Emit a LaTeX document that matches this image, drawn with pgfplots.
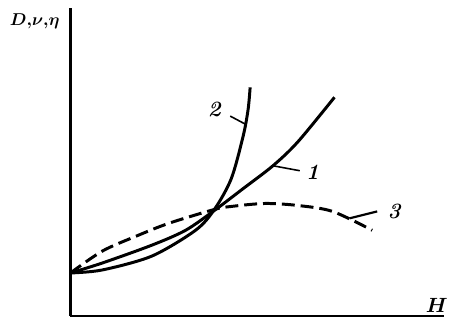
\documentclass[border=0pt]{standalone}
\usepackage{fontspec}
\usepackage{pgfplots}
\pgfplotsset{compat=1.18}
\usepackage{bm}
\begin{document}
\begin{tikzpicture}
\begin{axis}[
  scale only axis, width=376pt, height=310pt,
  xmin=0, xmax=376, ymin=0, ymax=310,
  axis lines=left, axis line style={-, line width=2.2pt},
  xtick=\empty, ytick=\empty, clip=false]
% curve 1
\addplot[line width=3pt, smooth, black] coordinates {
 (0,43) (32,53) (82,71) (116,86) (145,106) (174,128) (204,151) (229,175) (266,220)};
% curve 2
\addplot[line width=3pt, smooth, black] coordinates {
 (0,43) (32,46) (82,60) (126,86) (145,107) (162,138) (174,181) (179,208) (181,230)};
% curve 3 (dashed)
\addplot[line width=3pt, smooth, black, dash pattern=on 13pt off 6pt] coordinates {
 (0,43) (32,65) (66,80) (99,93) (145,107) (162,110) (196,113) (229,111) (264,105) (304,86)};
% leaders
\draw[line width=1.6pt] (axis cs:204,151) -- (axis cs:231,146);
\draw[line width=1.6pt] (axis cs:161,201) -- (axis cs:176,193);
\draw[line width=2.2pt] (axis cs:281,98) -- (axis cs:309,105);
% labels
\node[font=\fontsize{22}{22}\selectfont\bfseries\itshape] at (axis cs:244,144) {1};
\node[font=\fontsize{22}{22}\selectfont\bfseries\itshape] at (axis cs:145,208) {2};
\node[font=\fontsize{22}{22}\selectfont\bfseries\itshape] at (axis cs:326,105) {3};
\node[font=\fontsize{21}{21}\selectfont] at (axis cs:369,10) {$\bm{H}$};
\node[font=\fontsize{18}{18}\selectfont] at (axis cs:-36,297) {$\bm{D{,}\nu{,}\eta}$};
\coordinate (O) at (axis cs:0,0);
\end{axis}
\path ([shift={(-71pt,-6pt)}]O) rectangle ([shift={(380pt,318pt)}]O);
\end{tikzpicture}
\end{document}
